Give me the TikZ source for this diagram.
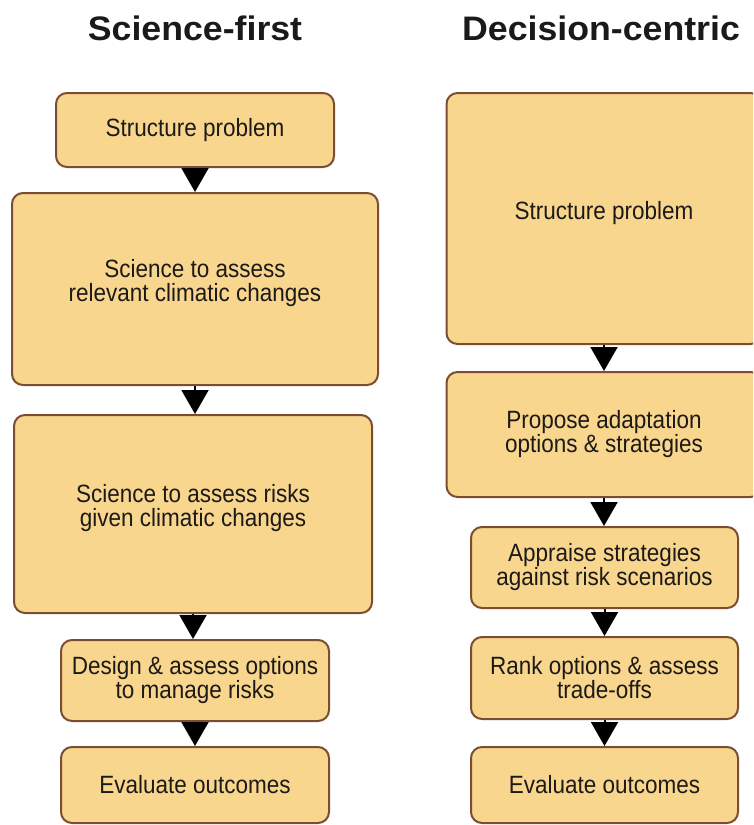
\documentclass[tikz,border=0pt]{standalone}
\usepackage{fontspec}
\setmainfont{Liberation Sans}
\newfontfamily\boxfont[FakeStretch=0.9]{Liberation Sans}
\newfontfamily\headfont[FakeStretch=1.05]{Liberation Sans}
\usepackage{tikz}
\usetikzlibrary{positioning, arrows.meta}

\definecolor{boxfill}{RGB}{249,214,141}
\definecolor{boxedge}{RGB}{122,78,50}
\definecolor{inktext}{RGB}{28,26,24}

\begin{document}
\begin{tikzpicture}[x=1pt, y=-1pt,
    stage/.style={draw=boxedge, fill=boxfill, line width=2pt, rounded corners=11pt,
      inner sep=0pt, align=center, text=inktext,
      font=\boxfont\fontsize{25}{24}\selectfont},
    lifted/.style={text depth=17pt},
    head/.style={anchor=base, text=inktext, font=\headfont\bfseries\fontsize{34}{34}\selectfont},
    flow/.style={line width=2pt, -{Triangle[length=24pt, width=27pt]}}]
  \useasboundingbox (0,0) rectangle (753,825);
  \clip (0,0) rectangle (753,825);
  % column headings
  \node[head] (hsci) at (195,40) {Science-first};
  \node[head] (hdec) at (601,40) {Decision-centric};
  % science-first column
  \node[stage, minimum width=278pt, minimum height=74pt]  (s1) at (195,130)   {Structure problem};
  \node[stage, lifted, minimum width=366pt, minimum height=192pt] (s2) at (195,289) {Science to assess\\relevant climatic changes};
  \node[stage, lifted, minimum width=358pt, minimum height=198pt] (s3) at (193,514) {Science to assess risks\\given climatic changes};
  \node[stage, minimum width=268pt, minimum height=81pt]  (s4) at (195,680.5) {Design \& assess options\\to manage risks};
  \node[stage, minimum width=268pt, minimum height=76pt]  (s5) at (195,785)   {Evaluate outcomes};
  % decision-centric column (runs off the right edge)
  \node[stage, lifted, minimum width=315pt, minimum height=251pt] (d1) at (604,218.5) {Structure problem};
  \node[stage, minimum width=315pt, minimum height=125pt] (d2) at (604,434.5) {Propose adaptation\\options \& strategies};
  \node[stage, minimum width=267pt, minimum height=81pt]  (d3) at (604.5,567.5) {Appraise strategies\\against risk scenarios};
  \node[stage, minimum width=267pt, minimum height=82pt]  (d4) at (604.5,678) {Rank options \& assess\\trade-offs};
  \node[stage, minimum width=267pt, minimum height=76pt]  (d5) at (604.5,785) {Evaluate outcomes};
  % arrows between the stages
  \foreach \a/\b in {s1/s2, s2/s3, s3/s4, s4/s5, d1/d2, d2/d3, d3/d4, d4/d5}
    \draw[flow] (\a.south) -- (\a.south |- \b.north);
\end{tikzpicture}
\end{document}
